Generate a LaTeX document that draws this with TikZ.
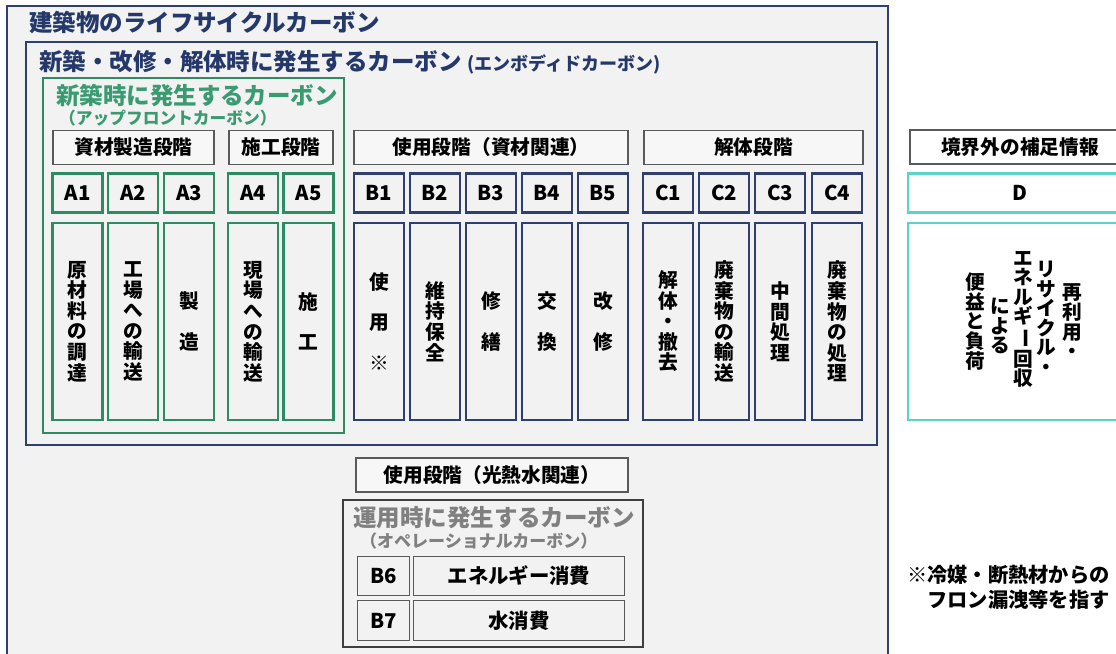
\documentclass[tikz,border=0pt]{standalone}
\usepackage{fontspec}
\setmainfont{Noto Sans CJK JP}
\definecolor{lcnavy}{HTML}{2F3F6F}
\definecolor{lctitle}{HTML}{24386A}
\definecolor{lcgreen}{HTML}{2E8B63}
\definecolor{lcgtext}{HTML}{3A9B72}
\definecolor{lcteal}{HTML}{5BD3C7}
\definecolor{hdgray}{HTML}{595959}
\definecolor{opgray}{HTML}{3F3F3F}
\definecolor{optext}{HTML}{808080}
\definecolor{bgfill}{HTML}{F2F2F2}
\definecolor{hdfill}{HTML}{F7F7F7}

\begin{document}
\begin{tikzpicture}[x=0.025cm,y=-0.025cm,line width=1.6pt,
  wd/.style={minimum width=#1*0.025cm},
  ht/.style={minimum height=#1*0.025cm},
  headbox/.style={draw=hdgray,fill=hdfill,line width=1.1pt,inner sep=0pt,ht=34,
    font=\fontsize{14}{16}\selectfont\bfseries},
  idcell/.style={draw=#1,fill=bgfill,inner sep=0pt,wd=50,ht=39,
    font=\fontsize{14.5}{16}\selectfont\bfseries},
  tallcell/.style={draw=#1,fill=bgfill,inner sep=0pt,wd=50,ht=197,align=center,
    font=\fontsize{14}{14.6}\selectfont\bfseries},
  bigtitle/.style={anchor=west,inner sep=0pt,font=\fontsize{16.7}{20}\selectfont\bfseries},
  subtitle/.style={anchor=west,inner sep=0pt,font=\fontsize{11.9}{14}\selectfont\bfseries},
  vtext/.style={anchor=north,inner sep=0pt,align=center,
    font=\fontsize{14}{13.9}\selectfont\bfseries}]
\useasboundingbox (0,0) rectangle (1116,653);
\clip (0,0) rectangle (1116,653);
% ---------- frames ----------
\draw[draw=lcnavy,fill=bgfill,line width=2pt] (7,6) rectangle (888,680);
\node[bigtitle,text=lctitle] (lctitle) at (28,23) {建築物のライフサイクルカーボン};
\draw[draw=lcnavy,line width=2pt] (26,42) rectangle (877,445);
\node[bigtitle,text=lctitle] (embtitle) at (38,62)
  {新築・改修・解体時に発生するカーボン {\fontsize{12.8}{14}\selectfont (エンボディドカーボン)}};
\draw[draw=lcgreen,line width=2pt] (43,78) rectangle (344,433);
\node[bigtitle,text=lcgtext] (uptitle) at (55,95) {新築時に発生するカーボン};
\node[subtitle,text=lcgtext] (upsub) at (58,118) {（アップフロントカーボン）};
% ---------- stage headers ----------
\node[headbox,wd=161] (hdprod) at (133.5,147.5) {資材製造段階};
\node[headbox,wd=104] (hdcons) at (281,147.5) {施工段階};
\node[headbox,wd=274] (hduse) at (491,147.5) {使用段階（資材関連）};
\node[headbox,wd=219] (hdeol) at (753.5,147.5) {解体段階};
\node[headbox,wd=220,fill=white] (hdext) at (1020,147) {境界外の補足情報};
% ---------- A ----------
\node[idcell=lcgreen] (a1) at (77.5,193) {A1};
\node[idcell=lcgreen] (a2) at (133,193) {A2};
\node[idcell=lcgreen] (a3) at (189,193) {A3};
\node[idcell=lcgreen] (a4) at (253,193) {A4};
\node[idcell=lcgreen] (a5) at (308.5,193) {A5};
\node[tallcell=lcgreen] (a1t) at (77.5,321.5) {原\\材\\料\\の\\調\\達};
\node[tallcell=lcgreen] (a2t) at (133,321.5) {工\\場\\へ\\の\\輸\\送};
\node[tallcell=lcgreen] (a3t) at (189,321.5) {製\\[14pt]造};
\node[tallcell=lcgreen] (a4t) at (253,321.5) {現\\場\\へ\\の\\輸\\送};
\node[tallcell=lcgreen] (a5t) at (308.5,321.5) {施\\[14pt]工};
% ---------- B ----------
\node[idcell=lcnavy] (b1) at (379,193) {B1};
\node[idcell=lcnavy] (b2) at (435,193) {B2};
\node[idcell=lcnavy] (b3) at (491,193) {B3};
\node[idcell=lcnavy] (b4) at (547,193) {B4};
\node[idcell=lcnavy] (b5) at (603,193) {B5};
\node[tallcell=lcnavy] (b1t) at (379,321.5) {使\\[14pt]用\\[14pt]※};
\node[tallcell=lcnavy] (b2t) at (435,321.5) {維\\持\\保\\全};
\node[tallcell=lcnavy] (b3t) at (491,321.5) {修\\[14pt]繕};
\node[tallcell=lcnavy] (b4t) at (547,321.5) {交\\[14pt]換};
\node[tallcell=lcnavy] (b5t) at (603,321.5) {改\\[14pt]修};
% ---------- C ----------
\node[idcell=lcnavy] (c1) at (668,193) {C1};
\node[idcell=lcnavy] (c2) at (724,193) {C2};
\node[idcell=lcnavy] (c3) at (780,193) {C3};
\node[idcell=lcnavy] (c4) at (837,193) {C4};
\node[tallcell=lcnavy] (c1t) at (668,321.5) {解\\体\\・\\撤\\去};
\node[tallcell=lcnavy] (c2t) at (724,321.5) {廃\\棄\\物\\の\\輸\\送};
\node[tallcell=lcnavy] (c3t) at (780,321.5) {中\\間\\処\\理};
\node[tallcell=lcnavy] (c4t) at (837,321.5) {廃\\棄\\物\\の\\処\\理};
% ---------- D ----------
\node[idcell=lcteal,wd=224,fill=white] (d) at (1020,193) {D};
\node[tallcell=lcteal,wd=224,fill=white] (dt) at (1020,321.5) {};
\node[vtext] (dcol1) at (1072,283) {再\\利\\用\\・};
\node[vtext] (dcol2) at (1046,260) {リ\\サ\\イ\\ク\\ル\\・};
\node[vtext] (dcol3) at (1023,250)
  {エ\\ネ\\ル\\ギ\\\makebox[1em]{\rotatebox[origin=c]{-90}{ー}}\\回\\収};
\node[vtext] (dcol4) at (1000,297) {に\\よ\\る};
\node[vtext] (dcol5) at (975,272) {便\\益\\と\\負\\荷};
% ---------- operational ----------
\node[headbox,wd=272] (hdop) at (492,475) {使用段階（光熱水関連）};
\draw[draw=opgray,line width=2pt] (343,500) rectangle (643,647);
\node[bigtitle,text=optext] (optitle) at (352,518) {運用時に発生するカーボン};
\node[subtitle,text=optext,font=\fontsize{12.1}{14}\selectfont\bfseries] (opsub) at (359,541) {（オペレーショナルカーボン）};
\node[idcell=hdgray,wd=52,line width=1.3pt] (b6) at (383.5,576) {B6};
\node[idcell=hdgray,wd=211,line width=1.3pt] (b6t) at (519,576) {エネルギー消費};
\node[idcell=hdgray,wd=52,ht=40,line width=1.3pt] (b7) at (383.5,620.5) {B7};
\node[idcell=hdgray,wd=211,ht=40,line width=1.3pt] (b7t) at (519,620.5) {水消費};
% ---------- note ----------
\node[anchor=north west,inner sep=0pt,align=left,font=\fontsize{14.4}{17.8}\selectfont\bfseries]
  (note) at (906,564) {※冷媒・断熱材からの\\\phantom{※}フロン漏洩等を指す};
\end{tikzpicture}
\end{document}
